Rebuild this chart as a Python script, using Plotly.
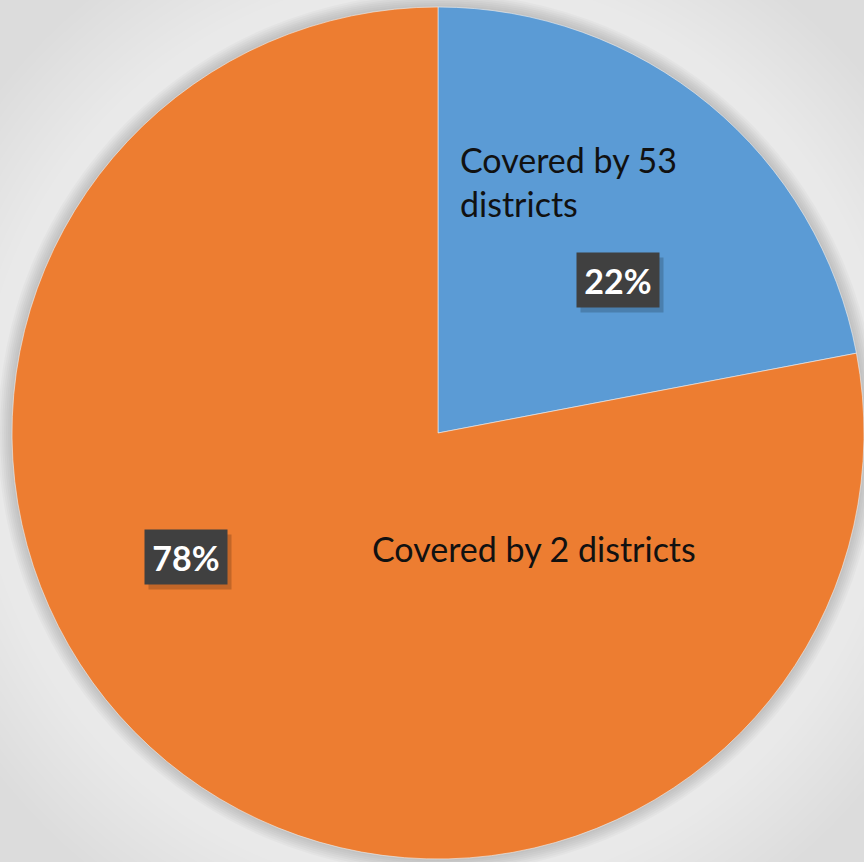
import plotly.graph_objects as go

labels = ["Covered by 53 districts", "Covered by 2 districts"]
values = [22, 78]
colors = ["#5B9BD5", "#ED7D31"]

W, H = 864, 862

fig = go.Figure()
fig.add_trace(go.Pie(
    labels=labels,
    values=values,
    sort=False,
    direction="clockwise",
    rotation=0,
    marker=dict(colors=colors, line=dict(color="#f0f0f0", width=0.6)),
    textinfo="none",
    hoverinfo="label+percent",
    showlegend=False,
    domain=dict(x=[12 / W, 1.0], y=[3 / H, 855 / H]),
))

def px(x):
    return x / W

def py(y):
    return 1 - y / H

font_lbl = dict(family="Lato, Noto Sans, sans-serif", size=34, color="#111111")
font_pct = dict(family="Lato, Noto Sans, sans-serif", size=34, color="#ffffff")

ann = []
ann.append(dict(x=px(458), y=py(137), xanchor="left", yanchor="top", align="left",
                text="Covered by 53<br>districts", showarrow=False, font=font_lbl))
ann.append(dict(x=px(534), y=py(548), xanchor="center", yanchor="middle",
                text=labels[1], showarrow=False, font=font_lbl))

pct_pos = [(618, 280), (186, 557)]
for v, (cx, cy) in zip(values, pct_pos):
    ann.append(dict(x=px(cx + 4), y=py(cy + 5), xanchor="center", yanchor="middle",
                    text=" ", showarrow=False, width=82, height=54, borderpad=0,
                    bgcolor="rgba(0,0,0,0.18)", font=font_pct))
    ann.append(dict(x=px(cx), y=py(cy), xanchor="center", yanchor="middle",
                    text=f"<b>{v}%</b>", showarrow=False, width=82, height=54, borderpad=0,
                    bgcolor="#404040", font=font_pct))

# soft halo / shadow around the pie (stacked translucent rings)
cx0, cy0, r0 = 438, 433, 426
shapes = []
for d in range(130, 14, -8):
    shapes.append(dict(type="circle", xref="paper", yref="paper", layer="below",
                       x0=px(cx0 - r0 - d), x1=px(cx0 + r0 + d),
                       y0=py(cy0 + r0 + d), y1=py(cy0 - r0 - d),
                       fillcolor="rgba(255,255,255,0.045)", line=dict(width=0)))
for d in range(14, 0, -2):
    shapes.append(dict(type="circle", xref="paper", yref="paper", layer="below",
                       x0=px(cx0 - r0 - d), x1=px(cx0 + r0 + d),
                       y0=py(cy0 + r0 + d), y1=py(cy0 - r0 - d),
                       fillcolor="rgba(0,0,0,0.022)", line=dict(width=0)))

fig.update_layout(
    width=W, height=H,
    margin=dict(l=0, r=0, t=0, b=0),
    paper_bgcolor="#dcdcdc",
    plot_bgcolor="#dcdcdc",
    annotations=ann,
    shapes=shapes,
)

fig.write_html("out.html")
